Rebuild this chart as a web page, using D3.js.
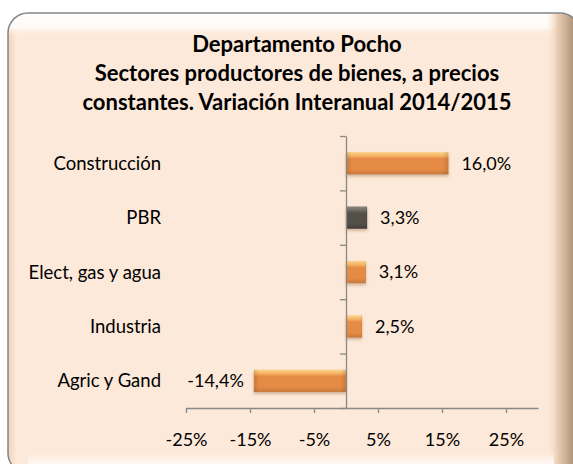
<!DOCTYPE html>
<html>
<head>
<meta charset="utf-8">
<script src="https://cdn.jsdelivr.net/npm/d3@7/dist/d3.min.js"></script>
<style>
  html, body { margin: 0; padding: 0; background: #fff; }
  svg { display: block; }
</style>
</head>
<body>
<div id="chart"></div>
<script>
// datos (de arriba hacia abajo)
const categories = ['Construcción', 'PBR', 'Elect, gas y agua', 'Industria', 'Agric y Gand'];
const values = [16.0, 3.3, 3.1, 2.5, -14.4];
const xTicks = [-25, -15, -5, 5, 15, 25];
const xDomain = [-25, 30];
const titleLines = [
  'Departamento Pocho',
  'Sectores productores de bienes, a precios',
  'constantes. Variación Interanual 2014/2015'
];
const totalCategory = 'PBR';

const width = 573, height = 464;
const font = 'Lato, "Open Sans", sans-serif';

const esFmt = d3.formatLocale({ decimal: ',', thousands: '.', grouping: [3], currency: ['', ''], minus: '-' });
const valueFmt = v => esFmt.format('.1f')(v) + '%';
const tickFmt = v => esFmt.format('d')(v) + '%';

const svg = d3.select('#chart').append('svg')
  .attr('width', width)
  .attr('height', height);

const defs = svg.append('defs');

// degradados del marco con relieve
const topGlow = defs.append('linearGradient').attr('id', 'topGlow')
  .attr('x1', 0).attr('x2', 0).attr('y1', 0).attr('y2', 1);
topGlow.append('stop').attr('offset', '0%').attr('stop-color', '#ffffff');
topGlow.append('stop').attr('offset', '60%').attr('stop-color', '#fffaf6');
topGlow.append('stop').attr('offset', '100%').attr('stop-color', '#fde9d9').attr('stop-opacity', 0);

const leftEdge = defs.append('linearGradient').attr('id', 'leftEdge')
  .attr('x1', 0).attr('x2', 1).attr('y1', 0).attr('y2', 0);
leftEdge.append('stop').attr('offset', '0%').attr('stop-color', '#efd3bd');
leftEdge.append('stop').attr('offset', '40%').attr('stop-color', '#ffeadb');
leftEdge.append('stop').attr('offset', '100%').attr('stop-color', '#fde9d9').attr('stop-opacity', 0);

const rightEdge = defs.append('linearGradient').attr('id', 'rightEdge')
  .attr('x1', 0).attr('x2', 1).attr('y1', 0).attr('y2', 0);
rightEdge.append('stop').attr('offset', '0%').attr('stop-color', '#fde9d9').attr('stop-opacity', 0);
rightEdge.append('stop').attr('offset', '40%').attr('stop-color', '#e9cbb1');
rightEdge.append('stop').attr('offset', '100%').attr('stop-color', '#a88a70');

const bottomEdge = defs.append('linearGradient').attr('id', 'bottomEdge')
  .attr('x1', 0).attr('x2', 0).attr('y1', 0).attr('y2', 1);
bottomEdge.append('stop').attr('offset', '0%').attr('stop-color', '#fde9d9').attr('stop-opacity', 0);
bottomEdge.append('stop').attr('offset', '60%').attr('stop-color', '#fff4ec');
bottomEdge.append('stop').attr('offset', '100%').attr('stop-color', '#fff8f3');

// degradados de las barras
function barGradient(id, light, mid, base, dark) {
  const g = defs.append('linearGradient').attr('id', id)
    .attr('x1', 0).attr('x2', 0).attr('y1', 0).attr('y2', 1);
  g.append('stop').attr('offset', '0%').attr('stop-color', light);
  g.append('stop').attr('offset', '20%').attr('stop-color', mid);
  g.append('stop').attr('offset', '30%').attr('stop-color', base);
  g.append('stop').attr('offset', '78%').attr('stop-color', base);
  g.append('stop').attr('offset', '100%').attr('stop-color', dark);
}
barGradient('barOrange', '#fcd68e', '#f3ab5e', '#e58b45', '#c7793c');
barGradient('barGray', '#8d867e', '#6a645d', '#55504a', '#403c37');

const sideShade = defs.append('linearGradient').attr('id', 'sideShade')
  .attr('x1', 0).attr('x2', 1).attr('y1', 0).attr('y2', 0);
sideShade.append('stop').attr('offset', '0%').attr('stop-color', '#000').attr('stop-opacity', 0.12);
sideShade.append('stop').attr('offset', '6%').attr('stop-color', '#000').attr('stop-opacity', 0);
sideShade.append('stop').attr('offset', '94%').attr('stop-color', '#000').attr('stop-opacity', 0);
sideShade.append('stop').attr('offset', '100%').attr('stop-color', '#000').attr('stop-opacity', 0.12);

const shadow = defs.append('filter').attr('id', 'shadow')
  .attr('x', '-20%').attr('y', '-40%').attr('width', '140%').attr('height', '200%');
shadow.append('feDropShadow')
  .attr('dx', 0).attr('dy', 2).attr('stdDeviation', 1.5)
  .attr('flood-color', '#7a4a20').attr('flood-opacity', 0.35);

// marco
const frame = { x: 8, y: 13, w: 572, h: 460, r: 20 };
defs.append('clipPath').attr('id', 'frameClip')
  .append('rect')
  .attr('x', frame.x).attr('y', frame.y)
  .attr('width', frame.w).attr('height', frame.h)
  .attr('rx', frame.r);

svg.append('rect')
  .attr('x', frame.x).attr('y', frame.y)
  .attr('width', frame.w).attr('height', frame.h)
  .attr('rx', frame.r)
  .attr('fill', '#fde9d9');

const bevel = svg.append('g').attr('clip-path', 'url(#frameClip)');
bevel.append('rect').attr('x', frame.x).attr('y', frame.y)
  .attr('width', 22).attr('height', frame.h).attr('fill', 'url(#leftEdge)');
bevel.append('rect').attr('x', frame.x).attr('y', frame.y)
  .attr('width', 548).attr('height', 24).attr('fill', 'url(#topGlow)');
bevel.append('rect').attr('x', 546).attr('y', frame.y)
  .attr('width', 30).attr('height', frame.h).attr('fill', 'url(#rightEdge)');
bevel.append('rect').attr('x', frame.x + 20).attr('y', 450)
  .attr('width', 526).attr('height', 16).attr('fill', 'url(#bottomEdge)');

svg.append('rect')
  .attr('x', frame.x).attr('y', frame.y)
  .attr('width', frame.w).attr('height', frame.h)
  .attr('rx', frame.r)
  .attr('fill', 'none')
  .attr('stroke', '#858585')
  .attr('stroke-width', 1.5);

// título
svg.append('text')
  .attr('x', 297)
  .attr('text-anchor', 'middle')
  .style('font-family', font)
  .style('font-weight', 700)
  .style('font-size', '22px')
  .style('fill', '#000')
  .selectAll('tspan')
  .data(titleLines)
  .join('tspan')
  .attr('x', 297)
  .attr('y', (d, i) => [52, 81, 110][i])
  .text(d => d);

// escalas
const x = d3.scaleLinear().domain(xDomain).range([186, 538]);
const y = d3.scaleBand()
  .domain(categories)
  .range([136, 408])
  .paddingInner(0.59)
  .paddingOuter(0.295);

// eje inferior
const xAxis = svg.append('g')
  .attr('transform', 'translate(0,408)')
  .call(d3.axisBottom(x).tickValues(xTicks).tickSize(5).tickSizeOuter(0).tickFormat(tickFmt));
xAxis.select('.domain').attr('stroke', '#888').attr('stroke-width', 1.3);
xAxis.selectAll('.tick line').attr('stroke', '#888').attr('stroke-width', 1.3);
xAxis.selectAll('.tick text')
  .attr('y', 32)
  .attr('dy', '0.36em')
  .style('font-family', font)
  .style('font-size', '18px')
  .style('fill', '#000');

// eje vertical en cero, marcas entre categorías
const bounds = d3.scaleLinear().domain([0, categories.length]).range([136, 408]);
const yAxis = svg.append('g')
  .attr('transform', `translate(${x(0)},0)`)
  .call(d3.axisLeft(bounds).tickValues(d3.range(categories.length + 1)).tickSize(6).tickSizeOuter(0).tickFormat(''));
yAxis.select('.domain').attr('stroke', '#888').attr('stroke-width', 1.3);
yAxis.selectAll('.tick line').attr('stroke', '#888').attr('stroke-width', 1.3);

// nombres de categorías
svg.append('g')
  .selectAll('text')
  .data(categories)
  .join('text')
  .attr('x', 161)
  .attr('y', d => y(d) + y.bandwidth() / 2)
  .attr('dy', '0.36em')
  .attr('text-anchor', 'end')
  .style('font-family', font)
  .style('font-size', '18.5px')
  .style('fill', '#000')
  .text(d => d);

// barras
const rows = categories.map((c, i) => ({ label: c, value: values[i] }));

const bars = svg.append('g')
  .selectAll('g')
  .data(rows)
  .join('g')
  .attr('filter', 'url(#shadow)');

bars.append('rect')
  .attr('x', d => x(Math.min(0, d.value)))
  .attr('y', d => y(d.label))
  .attr('width', d => Math.abs(x(d.value) - x(0)))
  .attr('height', y.bandwidth())
  .attr('fill', d => d.label === totalCategory ? 'url(#barGray)' : 'url(#barOrange)');

bars.append('rect')
  .attr('x', d => x(Math.min(0, d.value)))
  .attr('y', d => y(d.label))
  .attr('width', d => Math.abs(x(d.value) - x(0)))
  .attr('height', y.bandwidth())
  .attr('fill', 'url(#sideShade)');

// etiquetas de valores
svg.append('g')
  .selectAll('text')
  .data(rows)
  .join('text')
  .attr('x', d => d.value >= 0 ? x(d.value) + 13 : x(d.value) - 10)
  .attr('y', d => y(d.label) + y.bandwidth() / 2)
  .attr('dy', '0.36em')
  .attr('text-anchor', d => d.value >= 0 ? 'start' : 'end')
  .style('font-family', font)
  .style('font-size', '18px')
  .style('fill', '#000')
  .text(d => valueFmt(d.value));

// redibujar el eje vertical por encima de las barras
yAxis.raise();
</script>
</body>
</html>
